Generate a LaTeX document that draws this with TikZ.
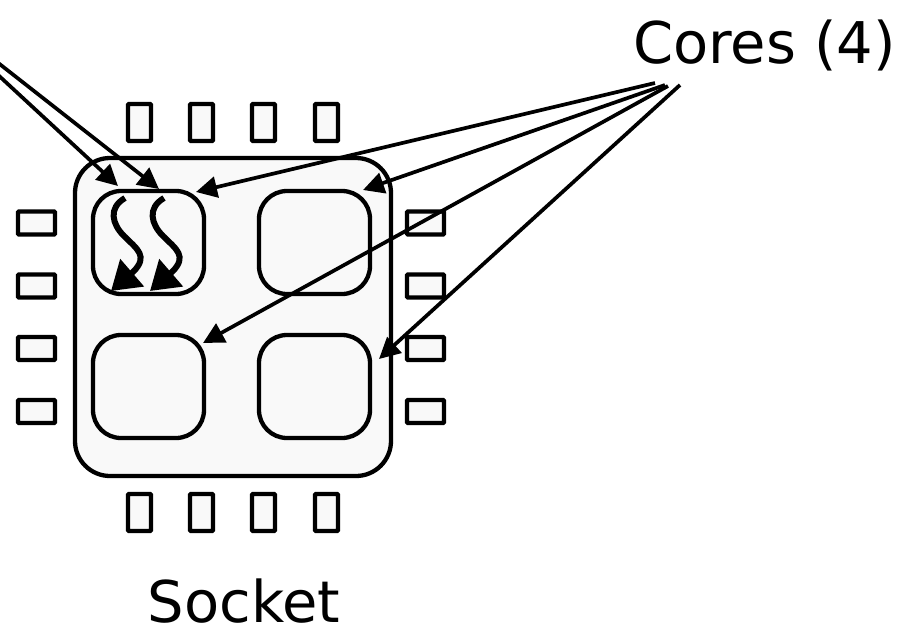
\documentclass[tikz,border=0pt]{standalone}
\usepackage{fontspec}
\setmainfont{DejaVu Sans}
\usetikzlibrary{arrows.meta}
\definecolor{lightfill}{HTML}{F9F9F9}
\tikzset{
  x=1pt,y=-1pt,
  pinbox/.style={draw=black,fill=lightfill,line width=4.3pt,rounded corners=1pt,inner sep=0pt,minimum width=0pt},
  sockbox/.style={draw=black,fill=lightfill,line width=4.3pt,rounded corners=35pt,inner sep=0pt,minimum width=316pt,minimum height=318pt},
  corebox/.style={draw=black,fill=lightfill,line width=4.3pt,rounded corners=28pt,inner sep=0pt,minimum width=111pt,minimum height=103pt},
  ptr/.style={draw=black,line width=3.7pt,-{Triangle[length=21pt,width=21pt]},shorten >=0pt},
  thread/.style={draw=black,line width=6pt,-{Triangle[length=28pt,width=35pt]}},
  label/.style={font=\fontsize{57.5}{62}\selectfont,anchor=base,inner sep=0pt}
}
\begin{document}
\begin{tikzpicture}
\useasboundingbox (0,0) rectangle (898,627);
\foreach \n/\x in {a/139.5,b/201.5,c/263.5,d/326.5}{
  \node[pinbox,minimum width=23pt,minimum height=37pt] (t\n) at (\x,122.5) {};
  \node[pinbox,minimum width=23pt,minimum height=37pt] (b\n) at (\x,512.5) {};
}
\foreach \n/\y in {a/223,b/286,c/348.5,d/411.5}{
  \node[pinbox,minimum width=37pt,minimum height=23pt] (l\n) at (36.5,\y) {};
  \node[pinbox,minimum width=37pt,minimum height=23pt] (r\n) at (425.5,\y) {};
}
\node[sockbox] (socket) at (233,317) {};
\node[corebox] (c1) at (148.5,242.5) {};
\node[corebox] (c2) at (314.5,242.5) {};
\node[corebox] (c3) at (148.5,386.5) {};
\node[corebox] (c4) at (314.5,386.5) {};
\node[label] (cores) at (764.5,63.5) {Cores (4)};
\node[label] (socklabel) at (244,622) {Socket};
\coordinate (o1) at (-3,74);
\coordinate (o2) at (-3,62);
\coordinate (e1) at (118,186);
\coordinate (e2) at (159,189);
\coordinate (s1) at (655,83);
\coordinate (s2) at (665,85);
\coordinate (s3) at (668,86);
\coordinate (s4) at (680,85);
\coordinate (p1) at (196,192);
\coordinate (p2) at (363,190);
\coordinate (p3) at (203,343);
\coordinate (p4) at (379,359);
\draw[ptr] (o1) -- (e1);
\draw[ptr] (o2) -- (e2);
\draw[ptr] (s1) -- (p1);
\draw[ptr] (s2) -- (p2);
\draw[ptr] (s3) -- (p3);
\draw[ptr] (s4) -- (p4);
\coordinate (w1s) at (125,198);
\coordinate (w1m) at (133,272);
\coordinate (w1e) at (111,291);
\coordinate (w2s) at (164,198);
\coordinate (w2m) at (172,272);
\coordinate (w2e) at (150,291);
\draw[thread] (w1s) .. controls (108,208) and (112,224) .. (124,236) .. controls (137,249) and (149,256) .. (w1m) -- (w1e);
\draw[thread] (w2s) .. controls (147,208) and (151,224) .. (163,236) .. controls (176,249) and (188,256) .. (w2m) -- (w2e);
\end{tikzpicture}
\end{document}
